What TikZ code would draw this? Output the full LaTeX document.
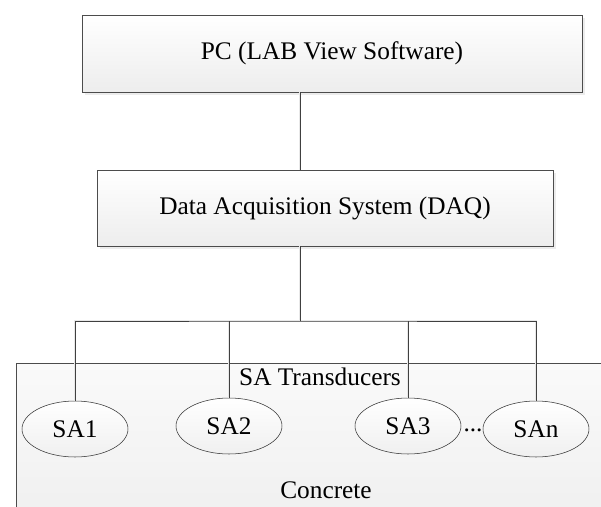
\documentclass[tikz,border=0pt]{standalone}
\usepackage{fontspec}
\setmainfont{Liberation Serif}
\usetikzlibrary{shapes.geometric, shadows}
\tikzset{
  unitbox/.style={rectangle, draw=black!70, semithick, top color=white, bottom color=gray!14,
    drop shadow={shadow xshift=2pt, shadow yshift=-2pt, fill=gray!30}, inner sep=0pt,
    font=\fontsize{19}{22}\selectfont},
  sensor/.style={ellipse, draw=black!80, thin, top color=white, bottom color=gray!12,
    minimum width=79.5pt, minimum height=42pt, inner sep=0pt, font=\fontsize{19}{22}\selectfont},
  plaintext/.style={font=\fontsize{19}{22}\selectfont, inner sep=0pt},
  wire/.style={draw=black!75, thin},
  wireshade/.style={draw=gray!18, line width=1pt},
}

\begin{document}
\begin{tikzpicture}[x=0.75pt, y=-0.75pt]
\useasboundingbox (0,0) rectangle (601,507);
\clip (0,0) rectangle (601,507);
% concrete block
\fill[top color=gray!4, bottom color=gray!12] (16,363) rectangle (620,520);
\draw[black!70] (16,520) -- (16,363) -- (620,363);
\node (concrete) [plaintext] at (326,490) {Concrete};
\node (satitle) [plaintext] at (320,377) {SA Transducers};
% units
\node (pc) [unitbox, minimum width=375pt, minimum height=57.75pt] at (332,53.5) {PC (LAB View Software)};
\node (daq) [unitbox, minimum width=342pt, minimum height=57pt] at (325,208) {Data Acquisition System (DAQ)};
% transducers
\node (sa1) [sensor] at (75,429) {SA1};
\node (sa2) [sensor] at (229,426) {SA2};
\node (sa3) [sensor] at (408,426) {SA3};
\node (san) [sensor] at (536,429) {SAn};
\node (dots) [plaintext, anchor=base] at (473,431) {...};
\coordinate (hub) at (300,321);
% wiring
\begin{scope}[shift={(2,2)}]
\draw [wireshade] (pc.south -| hub) -- (daq.north -| hub);
\draw [wireshade] (daq.south -| hub) -- (hub);
\draw [wireshade] (sa1.north) |- (hub) -| (san.north);
\draw [wireshade] (sa2.north) -- (sa2.north |- hub);
\draw [wireshade] (sa3.north) -- (sa3.north |- hub);
\end{scope}
\draw [wire] (pc.south -| hub) -- (daq.north -| hub);
\draw [wire] (daq.south -| hub) -- (hub);
\draw [wire] (sa1.north) |- (hub) -| (san.north);
\draw [wire] (sa2.north) -- (sa2.north |- hub);
\draw [wire] (sa3.north) -- (sa3.north |- hub);
\end{tikzpicture}
\end{document}
